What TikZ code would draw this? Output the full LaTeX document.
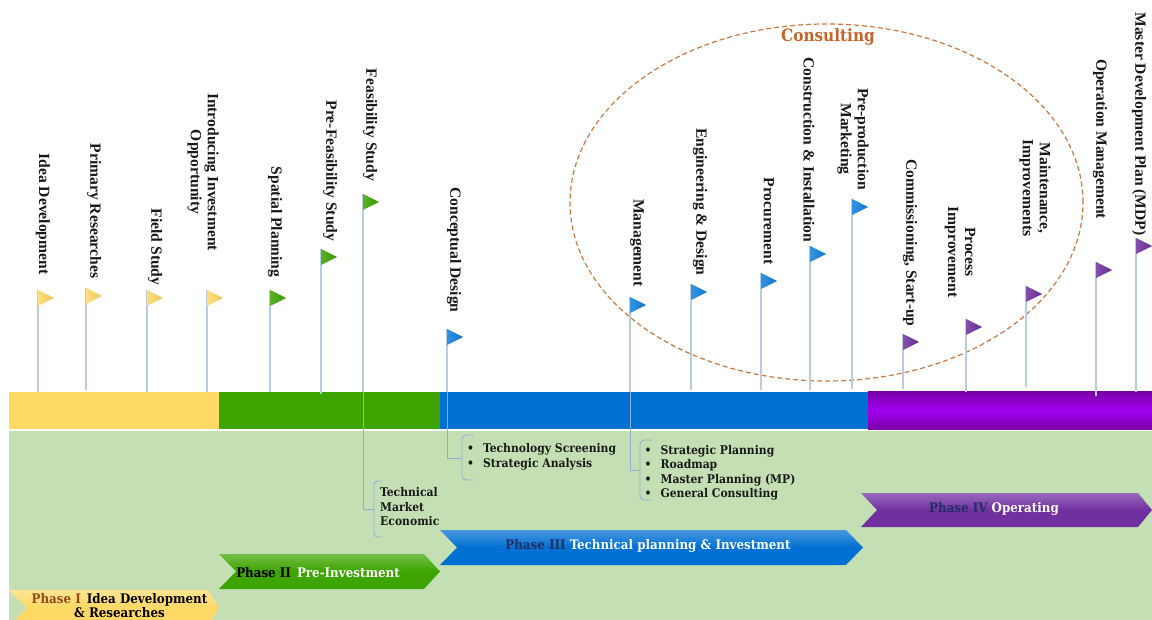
\documentclass[tikz,border=0pt]{standalone}
\usepackage{fontspec}
\setmainfont{Liberation Serif}
\newfontfamily\widefont{DejaVu Serif Condensed}
\usetikzlibrary{shapes.geometric}
\definecolor{poleblue}{HTML}{B9CCE4}
\definecolor{linkblue}{HTML}{8FB0D6}
\definecolor{panelgreen}{HTML}{C5DFB4}
\definecolor{barYellow}{HTML}{FFD966}
\definecolor{barGreen}{HTML}{3DA400}
\definecolor{barBlue}{HTML}{0070D2}
\definecolor{barPurple}{HTML}{A000F0}
\definecolor{barPurpleDark}{HTML}{7A00A8}
\definecolor{flagYellow}{HTML}{FFD966}
\definecolor{flagGreen}{HTML}{3DA400}
\definecolor{flagBlue}{HTML}{0F80DC}
\definecolor{flagPurple}{HTML}{7030A0}
\definecolor{orangeline}{HTML}{C87A45}
\definecolor{consult}{HTML}{C4652A}
\definecolor{phaseBrown}{HTML}{94491A}
\definecolor{phaseNavy}{HTML}{1F2F66}
\tikzset{
  x=1pt,y=-1pt,
  pole/.style={draw=poleblue,line width=1.4pt},
  link/.style={draw=linkblue,line width=0.9pt},
  vlabel/.style={xshift=1pt,rotate=-90,inner sep=0,align=center,font=\fontsize{15.6}{17}\selectfont\bfseries,text=black!90},
  blabel/.style={inner sep=0,anchor=west,align=left,font=\fontsize{12}{14.5}\selectfont\widefont\bfseries,text=black!90},
  bannertext/.style={yshift=-1.2pt,inner sep=0,align=center,font=\fontsize{13.2}{14}\selectfont\widefont\bfseries},
}
% name, x, flag top, foot y, colour
\newcommand{\flagpole}[5]{%
  \coordinate (#1top) at (#2,#3);
  \coordinate (#1foot) at (#2,#4);
  \draw[pole] (#1top) -- (#1foot);
  \path[left color=#5!85!white,right color=#5!92!black,shading angle=90]
    (#1top) -- ++(16,8) -- ++(-16,8) -- cycle;
}
% x left, notch depth, x body right, x tip, y top, y bottom, colour
\newcommand{\banner}[7]{%
  \path[top color=#7!72!white,bottom color=#7,middle color=#7]
    (#1,#5) -- (#3,#5) -- (#4,{(#5+#6)/2}) -- (#3,#6) -- (#1,#6)
    -- ({#1+#2},{(#5+#6)/2}) -- cycle;
}
\begin{document}
\begin{tikzpicture}
\useasboundingbox (0,0) rectangle (1152,620);
\clip (0,0) rectangle (1152,620);
\fill[white] (0,0) rectangle (1152,620);
\fill[panelgreen] (9,431) rectangle (1152,620);
% timeline bar
\fill[barYellow] (9,392) rectangle (219,429);
\fill[barGreen] (219,392) rectangle (440,429);
\fill[barBlue] (440,392) rectangle (868,429);
\path[top color=barPurpleDark,bottom color=barPurpleDark,middle color=barPurple] (868,392) rectangle (1152,429);
% consulting ellipse
\node[ellipse,draw=orangeline,dash pattern=on 5pt off 3pt,line width=1.2pt,minimum width=513pt,minimum height=357pt,inner sep=0] (consultring) at (826.5,202.5) {};
\node[inner sep=0,text=consult,font=\fontsize{17}{20}\selectfont\widefont\bfseries] (consulting) at (828,37) {Consulting};
% flags
\flagpole{idea}{38}{290}{392}{flagYellow}
\flagpole{primary}{86}{288}{390}{flagYellow}
\flagpole{field}{147}{290}{392}{flagYellow}
\flagpole{intro}{207}{290}{392}{flagYellow}
\flagpole{spatial}{270}{290}{392}{flagGreen}
\flagpole{prefeas}{321}{249}{394}{flagGreen}
\flagpole{feas}{363}{194}{392}{flagGreen}
\flagpole{concept}{447}{329}{392}{flagBlue}
\flagpole{manage}{630}{297}{392}{flagBlue}
\flagpole{engin}{691}{284}{390}{flagBlue}
\flagpole{procure}{761}{273}{390}{flagBlue}
\flagpole{construct}{810}{246}{390}{flagBlue}
\flagpole{preprod}{852}{199}{389}{flagBlue}
\flagpole{commis}{903}{334}{389}{flagPurple}
\flagpole{process}{966}{319}{392}{flagPurple}
\flagpole{maint}{1026}{286}{387}{flagPurple}
\flagpole{operate}{1096}{262}{396}{flagPurple}
\flagpole{mdp}{1136}{238}{392}{flagPurple}
% flag labels
\node[vlabel] (tIdea) at (42,214) {Idea Development};
\node[vlabel] (tPrimary) at (93,211) {Primary Researches};
\node[vlabel] (tField) at (154,247) {Field Study};
\node[vlabel] (tIntro) at (202,172) {Introducing Investment\\Opportunity};
\node[vlabel] (tSpatial) at (274,222) {Spatial Planning};
\node[vlabel] (tPrefeas) at (329,171) {Pre-Feasibility Study};
\node[vlabel] (tFeas) at (369,125) {Feasibility Study};
\node[vlabel] (tConcept) at (453,250) {Conceptual Design};
\node[vlabel] (tManage) at (636,243) {Management};
\node[vlabel] (tEngin) at (699,202) {Engineering \& Design};
\node[vlabel] (tProcure) at (768,221) {Procurement};
\node[vlabel] (tConstruct) at (808,150) {Construction \& Installation};
\node[vlabel] (tPreprod) at (852,139) {Pre-production\\Marketing};
\node[vlabel] (tCommis) at (909,243) {Commissioning, Start-up};
\node[vlabel] (tProcess) at (959,252) {Process\\Improvement};
\node[vlabel] (tMaint) at (1034,188) {Maintenance,\\Improvements};
\node[vlabel] (tOperate) at (1099,139) {Operation Management};
\node[vlabel] (tMdp) at (1138,124) {Master Development Plan (MDP)};
% brackets and their links
\coordinate (feasEnd) at (363,509);
\coordinate (conceptEnd) at (447,458);
\coordinate (manageEnd) at (630,470);
\draw[link] (feasfoot) -- (feasEnd) -- (374,509);
\draw[link] (conceptfoot) -- (conceptEnd) -- (461,458);
\draw[link] (managefoot) -- (manageEnd) -- (640,470);
\draw[link] (382,481) -- (377,481) .. controls (375,481) and (374,483) .. (374,485) -- (374,533) .. controls (374,535) and (375,537) .. (377,537) -- (382,537);
\draw[link] (474,435) -- (466,435) .. controls (464,435) and (462,437) .. (462,439) -- (462,476) .. controls (462,478) and (464,480) .. (466,480) -- (474,480);
\draw[link] (652,440) -- (644,440) .. controls (642,440) and (640,442) .. (640,444) -- (640,496) .. controls (640,498) and (642,500) .. (644,500) -- (652,500);
\node[blabel] (tTech) at (380,507) {Technical\\Market\\Economic};
\node[blabel] (tScreen) at (467,457) {\textbullet\hspace{9pt}Technology Screening\\\textbullet\hspace{9pt}Strategic Analysis};
\node[blabel] (tPlan) at (644.5,473) {\textbullet\hspace{9pt}Strategic Planning\\\textbullet\hspace{9pt}Roadmap\\\textbullet\hspace{9pt}Master Planning (MP)\\\textbullet\hspace{9pt}General Consulting};
% phase banners
\banner{9}{18}{208}{219}{590}{626}{barYellow}
\banner{219}{17}{424}{440}{554}{589}{barGreen}
\banner{440}{17}{846}{863}{530}{565}{barBlue}
\banner{861}{16}{1138}{1152}{493}{527}{flagPurple}
\node[bannertext] (tPhaseI) at (119.5,604.5) {\textcolor{phaseBrown}{Phase I}\hspace{6pt}\textcolor{black}{Idea Development}\\\textcolor{black}{\& Researches}};
\node[bannertext] (tPhaseII) at (318,571) {\textcolor{black}{Phase II}\hspace{6pt}\textcolor{white}{Pre-Investment}};
\node[bannertext] (tPhaseIII) at (648,545) {\textcolor{phaseNavy}{Phase III} \textcolor{white}{Technical planning \& Investment}};
\node[bannertext] (tPhaseIV) at (994,508) {\textcolor{phaseNavy}{Phase IV} \textcolor{white}{Operating}};
\end{tikzpicture}
\end{document}
